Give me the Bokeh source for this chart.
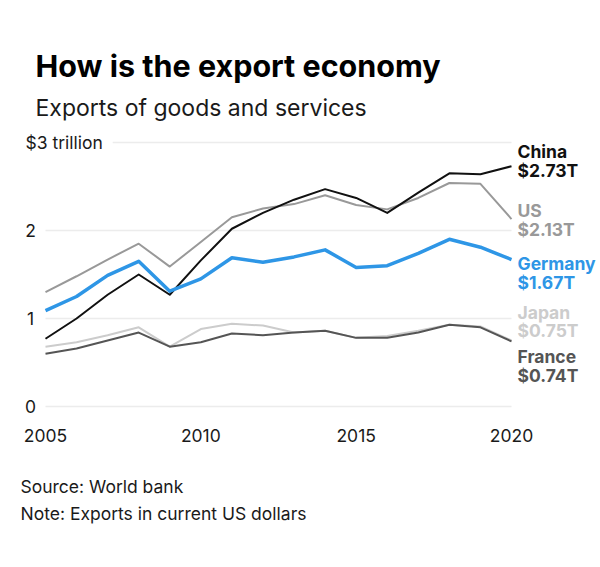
from bokeh.plotting import figure
from bokeh.models import Label, Range1d
from bokeh.embed import file_html
from bokeh.resources import INLINE

# ---- data (trillions of current US$) ----
years = list(range(2005, 2021))
china = [0.77, 1.00, 1.27, 1.50, 1.27, 1.66, 2.02, 2.20, 2.35, 2.47, 2.37, 2.20, 2.43, 2.65, 2.64, 2.73]
us = [1.30, 1.48, 1.67, 1.85, 1.59, 1.87, 2.15, 2.25, 2.30, 2.40, 2.29, 2.24, 2.37, 2.54, 2.53, 2.13]
germany = [1.09, 1.25, 1.49, 1.65, 1.31, 1.45, 1.69, 1.64, 1.70, 1.78, 1.58, 1.60, 1.74, 1.90, 1.81, 1.67]
japan = [0.68, 0.73, 0.81, 0.90, 0.68, 0.88, 0.94, 0.92, 0.84, 0.86, 0.78, 0.80, 0.86, 0.93, 0.91, 0.75]
france = [0.60, 0.66, 0.75, 0.84, 0.68, 0.73, 0.83, 0.81, 0.84, 0.86, 0.78, 0.78, 0.84, 0.93, 0.90, 0.74]

x_ticks = [2005, 2010, 2015, 2020]
y_ticks = [0, 1, 2, 3]
y_tick_labels = ["0", "1", "2", "$3 trillion"]
end_labels = {"China": "$2.73T", "US": "$2.13T", "Germany": "$1.67T", "Japan": "$0.75T", "France": "$0.74T"}

FONT = "Inter"
W, H = 600, 567
# layout in canvas pixels: where the data area sits
PL, PR, PT, PB = 45, 511, 142, 406   # x of 2005/2020, y of 3/0

xs = (x_ticks[-1] - x_ticks[0]) / (PR - PL)
ys = (y_ticks[-1] - y_ticks[0]) / (PB - PT)
x_range = Range1d(x_ticks[0] - PL * xs, x_ticks[-1] + (W - PR) * xs)
y_range = Range1d(y_ticks[0] - (H - PB) * ys, y_ticks[-1] + PT * ys)

p = figure(width=W, height=H, output_backend="svg", toolbar_location=None,
           x_range=x_range, y_range=y_range, x_axis_type=None, y_axis_type=None,
           min_border=0)
p.outline_line_color = None
p.grid.visible = False
p.background_fill_color = "white"
p.border_fill_color = "white"

# horizontal gridlines
p.segment(x0=[years[0]] * len(y_ticks), x1=[years[-1]] * len(y_ticks), y0=y_ticks, y1=y_ticks,
          line_color="#ececec", line_width=1.5)

TXT = "#1a1a1a"
# y tick labels
for t, lab in zip(y_ticks, y_tick_labels):
    if t == y_ticks[-1]:
        p.add_layout(Label(x=years[0], y=t, x_offset=-20, text=lab + "  ", text_font=FONT,
                           text_font_size="17.5px", text_color=TXT, text_baseline="middle",
                           text_align="left", background_fill_color="white"))
    else:
        p.add_layout(Label(x=years[0], y=t, x_offset=-15, text=lab, text_font=FONT,
                           text_font_size="17.5px", text_color=TXT, text_baseline="middle",
                           text_align="center"))

# x tick labels
for t in x_ticks:
    p.add_layout(Label(x=t, y=y_ticks[0], y_offset=-29, text=str(t), text_font=FONT,
                       text_font_size="17.5px", text_color=TXT, text_baseline="middle",
                       text_align="center"))

series = [
    ("Japan", japan, "#cccccc", 2),
    ("France", france, "#555555", 2),
    ("US", us, "#999999", 2),
    ("China", china, "#111111", 2),
    ("Germany", germany, "#2e96e6", 3.5),
]
offsets = {"China": (15, -4), "US": (9, -10), "Germany": (-4, -23), "Japan": (28, 10), "France": (-15, -34)}

for name, vals, color, w in series:
    p.line(years, vals, line_color=color, line_width=w, line_join="round")
    o1, o2 = offsets[name]
    for txt, off in ((name, o1), (end_labels[name], o2)):
        p.add_layout(Label(x=years[-1], y=vals[-1], x_offset=6, y_offset=off, text=txt,
                           text_font=FONT, text_font_style="bold", text_font_size="17.5px",
                           text_color=color, text_baseline="middle"))

def slabel(x, y, text, size, style="normal", color=TXT):
    p.add_layout(Label(x=x, y=H - y, x_units="screen", y_units="screen", text=text,
                       text_font=FONT, text_font_size=size, text_font_style=style,
                       text_color=color, text_baseline="middle"))

slabel(35, 65, "How is the export economy", "30.5px", "bold", "#000000")
slabel(35, 107, "Exports of goods and services", "23px", "normal", TXT)
slabel(20, 485.5, "Source: World bank", "17.5px", "normal", TXT)
slabel(20, 513, "Note: Exports in current US dollars", "17.5px", "normal", TXT)

open("out.html", "w").write(file_html(p, INLINE))
